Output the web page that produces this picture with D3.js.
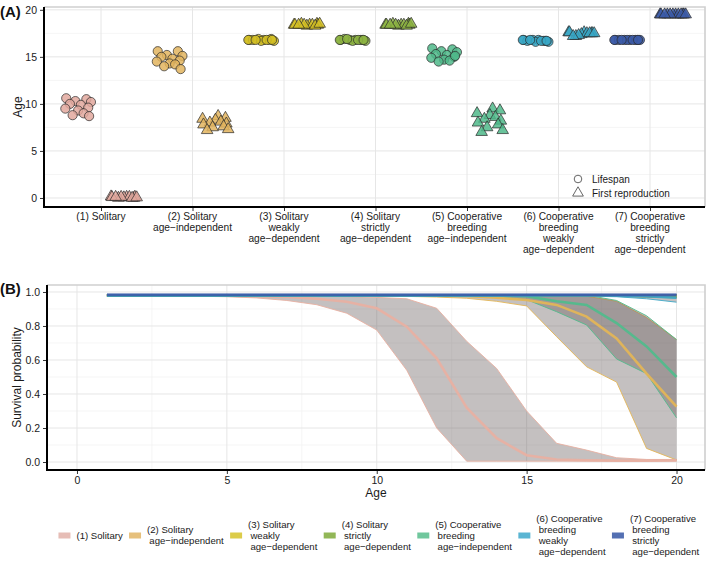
<!DOCTYPE html>
<html><head><meta charset="utf-8">
<script src="https://cdn.jsdelivr.net/npm/d3@7/dist/d3.min.js"></script>
<style>body{margin:0;background:#fff} svg{display:block;font-family:"Liberation Sans",Arial,Helvetica,sans-serif}</style>
</head><body><svg id="c" width="710" height="565"></svg>
<script>
// ---------- DATA ----------
const categories = ["1","2","3","4","5","6","7"];
const catLabels = [
  ["(1) Solitary"],
  ["(2) Solitary","age\u2212independent"],
  ["(3) Solitary","weakly","age\u2212dependent"],
  ["(4) Solitary","strictly","age\u2212dependent"],
  ["(5) Cooperative","breeding","age\u2212independent"],
  ["(6) Cooperative","breeding","weakly","age\u2212dependent"],
  ["(7) Cooperative","breeding","strictly","age\u2212dependent"]
];
const pointColors = ["#e2a89d","#e2b45e","#d4c025","#8db442","#4fb98a","#38a7c6","#3c5ca9"];
const lineColors  = ["#e8b0a2","#e3b557","#d8c42e","#8cb443","#52bb8c","#3da8c8","#3d5ea9"];

// Panel A: lifespan and age at first reproduction per category
const lifespan = [
  [10.6,10.5,10.3,10.2,10.0,9.9,9.6,9.5,9.3,9.0,8.8,8.7],
  [15.6,15.6,15.2,15.1,15.0,14.8,14.6,14.5,14.3,14.2,14.0,13.7],
  [16.8,16.8,16.9,16.7,16.8,16.8,16.9,16.8,16.7,16.8,16.8,16.8],
  [16.8,16.8,16.8,16.7,16.9,16.8,16.8,16.8,16.7,16.8,16.9,16.8],
  [15.9,15.8,15.6,15.5,15.3,15.2,15.0,14.9,14.7,14.6,14.5,15.1],
  [16.8,16.7,16.8,16.6,16.7,16.8,16.7,16.8,16.6,16.7,16.8,16.7],
  [16.8,16.8,16.8,16.8,16.8,16.8,16.8,16.8,16.8,16.8,16.8,16.8]
];
const firstRepro = [
  [0.1,0.0,0.15,0.05,0.1,0.0,0.12,0.08,0.0,0.1,0.05,0.1],
  [8.7,8.5,8.4,8.3,8.1,8.0,7.9,7.8,7.6,7.5,7.3,7.2],
  [18.4,18.5,18.4,18.3,18.4,18.5,18.4,18.4,18.3,18.4,18.5,18.4],
  [18.4,18.5,18.4,18.3,18.4,18.5,18.4,18.4,18.3,18.4,18.5,18.4],
  [9.5,9.3,9.0,8.8,8.6,8.4,8.2,8.0,7.8,7.5,7.2,7.0],
  [17.6,17.5,17.6,17.4,17.5,17.2,17.5,17.6,17.5,17.3,17.5,17.2],
  [19.5,19.5,19.5,19.5,19.5,19.5,19.5,19.5,19.5,19.5,19.5,19.5]
];
const yTicksA = [0,5,10,15,20];

// Panel B: survival probability by age (mean, lower, upper) per category
const ages = [1,2,3,4,5,6,7,8,9,10,11,12,13,14,15,16,17,18,19,20];
const survMean = [
  [0.98,0.98,0.98,0.98,0.978,0.975,0.97,0.96,0.943,0.904,0.796,0.61,0.32,0.14,0.04,0.015,0.01,0.008,0.008,0.01],
  [0.98,0.98,0.98,0.98,0.98,0.98,0.98,0.98,0.98,0.98,0.98,0.98,0.976,0.966,0.953,0.924,0.855,0.727,0.52,0.325],
  [0.98,0.98,0.98,0.98,0.98,0.98,0.98,0.98,0.98,0.98,0.98,0.98,0.98,0.98,0.98,0.98,0.98,0.98,0.978,0.976],
  [0.98,0.98,0.98,0.98,0.98,0.98,0.98,0.98,0.98,0.98,0.98,0.98,0.98,0.98,0.98,0.98,0.98,0.98,0.978,0.975],
  [0.98,0.98,0.98,0.98,0.98,0.98,0.98,0.98,0.98,0.98,0.98,0.98,0.98,0.98,0.975,0.945,0.924,0.817,0.68,0.50],
  [0.98,0.98,0.98,0.98,0.98,0.98,0.98,0.98,0.98,0.98,0.98,0.98,0.98,0.98,0.98,0.98,0.98,0.978,0.975,0.966],
  [0.983,0.983,0.983,0.983,0.983,0.983,0.983,0.983,0.983,0.983,0.983,0.983,0.983,0.983,0.983,0.983,0.983,0.983,0.983,0.983]
];
const survLower = [
  [0.975,0.975,0.975,0.975,0.972,0.965,0.95,0.925,0.875,0.776,0.54,0.2,0.005,0.005,0.005,0.005,0.005,0.005,0.005,0.005],
  [0.976,0.976,0.976,0.976,0.976,0.976,0.976,0.976,0.976,0.976,0.974,0.97,0.963,0.945,0.918,0.737,0.56,0.47,0.08,0.012],
  [0.977,0.977,0.977,0.977,0.977,0.977,0.977,0.977,0.977,0.977,0.977,0.977,0.977,0.977,0.977,0.977,0.976,0.975,0.972,0.968],
  [0.976,0.976,0.976,0.976,0.976,0.976,0.976,0.976,0.976,0.976,0.976,0.976,0.976,0.976,0.976,0.976,0.975,0.974,0.97,0.965],
  [0.976,0.976,0.976,0.976,0.976,0.976,0.976,0.976,0.976,0.976,0.976,0.976,0.975,0.972,0.955,0.884,0.806,0.606,0.52,0.26],
  [0.976,0.976,0.976,0.976,0.976,0.976,0.976,0.976,0.976,0.976,0.976,0.976,0.976,0.976,0.976,0.976,0.975,0.972,0.96,0.94],
  [0.98,0.98,0.98,0.98,0.98,0.98,0.98,0.98,0.98,0.98,0.98,0.98,0.98,0.98,0.98,0.98,0.98,0.98,0.98,0.98]
];
const survUpper = [
  [0.985,0.985,0.985,0.985,0.985,0.983,0.98,0.977,0.973,0.968,0.96,0.904,0.71,0.55,0.30,0.11,0.07,0.025,0.015,0.015],
  [0.985,0.985,0.985,0.985,0.985,0.985,0.985,0.985,0.985,0.985,0.985,0.985,0.985,0.985,0.984,0.982,0.975,0.945,0.85,0.72],
  [0.985,0.985,0.985,0.985,0.985,0.985,0.985,0.985,0.985,0.985,0.985,0.985,0.985,0.985,0.985,0.985,0.985,0.985,0.985,0.984],
  [0.985,0.985,0.985,0.985,0.985,0.985,0.985,0.985,0.985,0.985,0.985,0.985,0.985,0.985,0.985,0.985,0.985,0.985,0.984,0.983],
  [0.985,0.985,0.985,0.985,0.985,0.985,0.985,0.985,0.985,0.985,0.985,0.985,0.985,0.985,0.985,0.985,0.982,0.95,0.86,0.72],
  [0.985,0.985,0.985,0.985,0.985,0.985,0.985,0.985,0.985,0.985,0.985,0.985,0.985,0.985,0.985,0.985,0.985,0.985,0.984,0.982],
  [0.986,0.986,0.986,0.986,0.986,0.986,0.986,0.986,0.986,0.986,0.986,0.986,0.986,0.986,0.986,0.986,0.986,0.986,0.986,0.986]
];
const xTicksB = [0,5,10,15,20];
const yTicksB = [0,0.2,0.4,0.6,0.8,1.0];
const legendLabels = [
  ["(1) Solitary"],
  ["(2) Solitary","age\u2212independent"],
  ["(3) Solitary","weakly","age\u2212dependent"],
  ["(4) Solitary","strictly","age\u2212dependent"],
  ["(5) Cooperative","breeding","age\u2212independent"],
  ["(6) Cooperative","breeding","weakly","age\u2212dependent"],
  ["(7) Cooperative","breeding","strictly","age\u2212dependent"]
];
const legendColors = ["#e6bdb6","#e6c07c","#dccc4a","#92b757","#70c79d","#5ab5d3","#5470b3"];

// ---------- STYLE ----------
const jitter = [-0.13,0.09,-0.03,0.14,-0.09,0.03,0.11,-0.14,0.0,0.06,-0.06,0.12];
const svg = d3.select("#c");
const majorGrid = "#e6e6e6", minorGrid = "#f2f2f2", borderCol = "#cfcfcf";

// ---------- PANEL A ----------
const A = {l:44, r:705, t:7, b:207};
const xA = d3.scalePoint().domain(categories).range([101, 650]);
const stepA = xA.step();
const yA = d3.scaleLinear().domain([-0.96, 20.3]).range([A.b, A.t]);

const gA = svg.append("g");
[2.5,7.5,12.5,17.5].forEach(v => gA.append("line").attr("x1",A.l).attr("x2",A.r).attr("y1",yA(v)).attr("y2",yA(v)).attr("stroke",minorGrid).attr("stroke-width",0.8));
yTicksA.forEach(v => gA.append("line").attr("x1",A.l).attr("x2",A.r).attr("y1",yA(v)).attr("y2",yA(v)).attr("stroke",majorGrid).attr("stroke-width",1));
categories.forEach(c => gA.append("line").attr("x1",xA(c)).attr("x2",xA(c)).attr("y1",A.t).attr("y2",A.b).attr("stroke",majorGrid).attr("stroke-width",1));
gA.append("path").attr("d",`M${A.l},${A.t}H${A.r}V${A.b}`).attr("fill","none").attr("stroke",borderCol).attr("stroke-width",1.6);

const tri = d3.symbol().type(d3.symbolTriangle).size(58);
categories.forEach((c,i) => {
  lifespan[i].forEach((v,j) => {
    gA.append("circle").attr("cx", xA(c) - stepA*0.25 + jitter[j]*stepA).attr("cy", yA(v)).attr("r",4.6)
      .attr("fill", pointColors[i]).attr("fill-opacity",0.85).attr("stroke","#2a2a2a").attr("stroke-width",0.7);
  });
  firstRepro[i].forEach((v,j) => {
    gA.append("path").attr("d", tri()).attr("transform",`translate(${xA(c) + stepA*0.25 + jitter[(j+5)%12]*stepA},${yA(v)})`)
      .attr("fill", pointColors[i]).attr("fill-opacity",0.85).attr("stroke","#2a2a2a").attr("stroke-width",0.7);
  });
});

const axYA = gA.append("g").attr("transform",`translate(${A.l},0)`).call(d3.axisLeft(yA).tickValues(yTicksA).tickSize(4).tickPadding(3));
axYA.select(".domain").remove();
axYA.selectAll("text").attr("font-size",10.5).attr("fill","#1a1a1a").attr("font-family","Liberation Sans, Arial, sans-serif");
axYA.selectAll(".tick line").attr("stroke","#333");
const axXA = gA.append("g").attr("transform",`translate(0,${A.b})`).call(d3.axisBottom(xA).tickSize(4).tickFormat(""));
axXA.select(".domain").remove();
axXA.selectAll(".tick line").attr("stroke","#333");
gA.append("line").attr("x1",A.l).attr("x2",A.l).attr("y1",A.t).attr("y2",A.b+1).attr("stroke","#000").attr("stroke-width",2);
gA.append("line").attr("x1",A.l-1).attr("x2",A.r).attr("y1",A.b).attr("y2",A.b).attr("stroke","#000").attr("stroke-width",2);
categories.forEach((c,i) => {
  const t = gA.append("text").attr("text-anchor","middle").attr("font-size",10.2).attr("fill","#1a1a1a");
  catLabels[i].forEach((s,k) => t.append("tspan").attr("x",xA(c)).attr("y",220 + k*11.1).text(s));
});
gA.append("text").attr("transform","translate(22,107) rotate(-90)").attr("text-anchor","middle").attr("font-size",12).attr("fill","#1a1a1a").text("Age");
svg.append("text").attr("x",0).attr("y",17).attr("font-size",15).attr("font-weight","bold").attr("fill","#111").text("(A)");

gA.append("circle").attr("cx",578).attr("cy",179).attr("r",3.8).attr("fill","none").attr("stroke","#555").attr("stroke-width",0.9);
gA.append("path").attr("d",d3.symbol().type(d3.symbolTriangle).size(50)()).attr("transform","translate(578,193)").attr("fill","none").attr("stroke","#555").attr("stroke-width",0.9);
gA.append("text").attr("x",592).attr("y",182.5).attr("font-size",10).attr("fill","#1a1a1a").text("Lifespan");
gA.append("text").attr("x",592).attr("y",197).attr("font-size",10).attr("fill","#1a1a1a").text("First reproduction");

// ---------- PANEL B ----------
const B = {l:47, r:705, t:285, b:470};
const xB = d3.scaleLinear().domain([-1, 20.95]).range([B.l, B.r]);
const yB = d3.scaleLinear().domain([-0.047, 1.041]).range([B.b, B.t]);
const gB = svg.append("g");
[0.1,0.3,0.5,0.7,0.9].forEach(v => gB.append("line").attr("x1",B.l).attr("x2",B.r).attr("y1",yB(v)).attr("y2",yB(v)).attr("stroke",minorGrid).attr("stroke-width",0.8));
[2.5,7.5,12.5,17.5].forEach(v => gB.append("line").attr("x1",xB(v)).attr("x2",xB(v)).attr("y1",B.t).attr("y2",B.b).attr("stroke",minorGrid).attr("stroke-width",0.8));
yTicksB.forEach(v => gB.append("line").attr("x1",B.l).attr("x2",B.r).attr("y1",yB(v)).attr("y2",yB(v)).attr("stroke",majorGrid).attr("stroke-width",1));
xTicksB.forEach(v => gB.append("line").attr("x1",xB(v)).attr("x2",xB(v)).attr("y1",B.t).attr("y2",B.b).attr("stroke",majorGrid).attr("stroke-width",1));
gB.append("path").attr("d",`M${B.l},${B.t}H${B.r}V${B.b}`).attr("fill","none").attr("stroke",borderCol).attr("stroke-width",1.6);

const area = d3.area().x((d,k)=>xB(ages[k])).y0(d=>yB(d[0])).y1(d=>yB(d[1]));
const line = d3.line().x((d,k)=>xB(ages[k])).y(d=>yB(d));
categories.forEach((c,i) => {
  const pairs = survLower[i].map((v,k)=>[v, survUpper[i][k]]);
  gB.append("path").attr("d", area(pairs)).attr("fill","rgb(104,92,92)").attr("fill-opacity",0.39);
  gB.append("path").attr("d", line(survLower[i])).attr("fill","none").attr("stroke",lineColors[i]).attr("stroke-width",0.9);
  gB.append("path").attr("d", line(survUpper[i])).attr("fill","none").attr("stroke",lineColors[i]).attr("stroke-width",0.9);
});
categories.forEach((c,i) => {
  gB.append("path").attr("d", line(survMean[i])).attr("fill","none").attr("stroke",lineColors[i]).attr("stroke-width",2.6).attr("stroke-opacity",0.95);
});

const axYB = gB.append("g").attr("transform",`translate(${B.l},0)`).call(d3.axisLeft(yB).tickValues(yTicksB).tickFormat(d3.format(".1f")).tickSize(4).tickPadding(3));
axYB.select(".domain").remove();
axYB.selectAll("text").attr("font-size",10.5).attr("fill","#1a1a1a").attr("font-family","Liberation Sans, Arial, sans-serif");
axYB.selectAll(".tick line").attr("stroke","#333");
const axXB = gB.append("g").attr("transform",`translate(0,${B.b})`).call(d3.axisBottom(xB).tickValues(xTicksB).tickSize(4).tickPadding(3));
axXB.select(".domain").remove();
axXB.selectAll("text").attr("font-size",10.5).attr("fill","#1a1a1a").attr("font-family","Liberation Sans, Arial, sans-serif");
axXB.selectAll(".tick line").attr("stroke","#333");
gB.append("line").attr("x1",B.l).attr("x2",B.l).attr("y1",B.t).attr("y2",B.b+1).attr("stroke","#000").attr("stroke-width",2);
gB.append("line").attr("x1",B.l-1).attr("x2",B.r).attr("y1",B.b).attr("y2",B.b).attr("stroke","#000").attr("stroke-width",2);
gB.append("text").attr("x",(B.l+B.r)/2).attr("y",497).attr("text-anchor","middle").attr("font-size",12).attr("fill","#1a1a1a").text("Age");
gB.append("text").attr("transform",`translate(21,${(B.t+B.b)/2}) rotate(-90)`).attr("text-anchor","middle").attr("font-size",12).attr("fill","#1a1a1a").text("Survival probability");
svg.append("text").attr("x",0).attr("y",294).attr("font-size",15).attr("font-weight","bold").attr("fill","#111").text("(B)");

// ---------- BOTTOM LEGEND ----------
const gL = svg.append("g");
let xCur = 0;
const cy = 535.5, lh = 11;
legendLabels.forEach((lines,i) => {
  const g = gL.append("g");
  g.append("rect").attr("x",xCur).attr("y",cy-3).attr("width",12).attr("height",6).attr("fill",legendColors[i]);
  const t = g.append("text").attr("font-size",9.6).attr("fill","#1a1a1a");
  const y0 = cy - (lines.length-1)*lh/2 + 3.4;
  lines.forEach((s,k) => t.append("tspan").attr("x", xCur + 18 + (k>0?2.3:0)).attr("y", y0 + k*lh).text(s));
  const w = t.node().getBBox().width;
  xCur += 18 + w + 6;
});
const totalW = xCur - 6;
gL.attr("transform",`translate(${Math.min(379 - totalW/2, 706 - totalW)},0)`);
</script></body></html>
